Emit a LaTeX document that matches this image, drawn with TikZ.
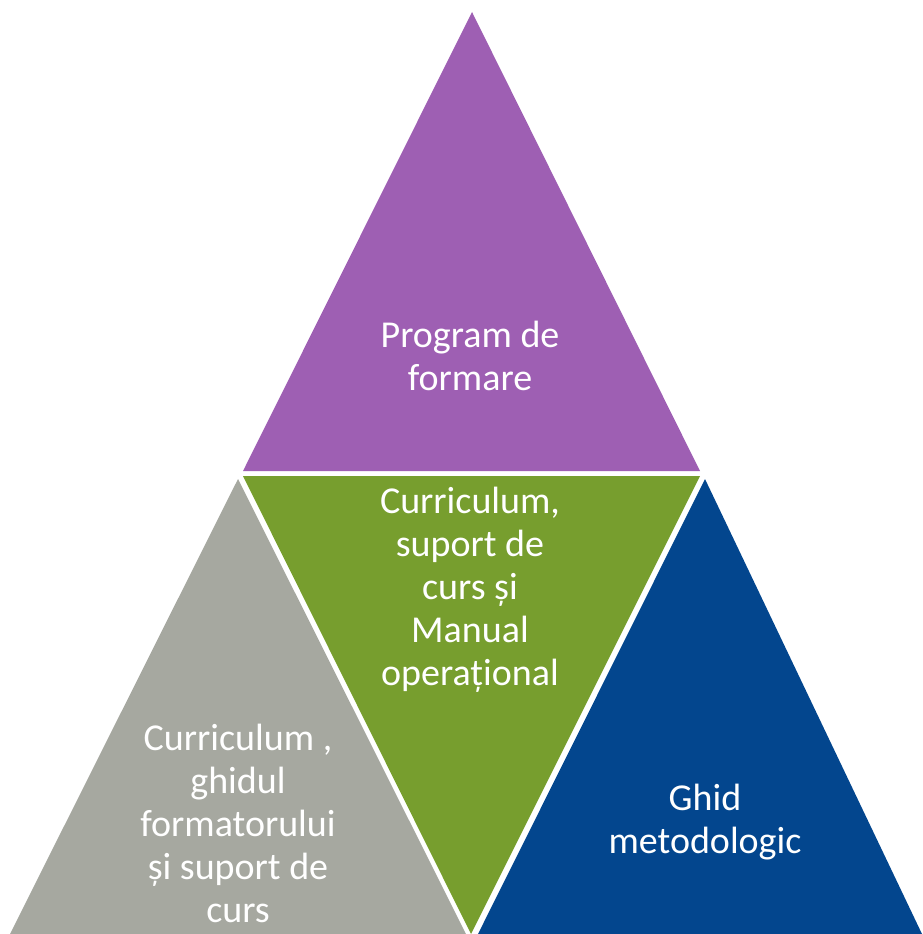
\documentclass[tikz,border=0pt]{standalone}
\usepackage{fontspec}
\setmainfont{Carlito}
\definecolor{cpurple}{HTML}{9E5FB3}
\definecolor{cgreen}{HTML}{779E2E}
\definecolor{cgrey}{HTML}{A6A8A0}
\definecolor{cblue}{HTML}{03468E}
\tikzset{
  lbl/.style={text=white, align=center, inner sep=0pt, font=\fontsize{38}{43}\selectfont},
}
\begin{document}
\begin{tikzpicture}[x=1pt,y=-1pt]
\useasboundingbox (0,0) rectangle (922,934);
\fill[cpurple] (472,12) -- (243,471) -- (700,471) -- cycle;
\fill[cgreen] (243,476) -- (700,476) -- (471,934) -- cycle;
\fill[cgrey] (238,479) -- (10,934) -- (466,934) -- cycle;
\fill[cblue] (705,479) -- (478,934) -- (922,934) -- cycle;
\node[lbl] (top) at (470,356) {Program de\\formare};
\node[lbl] (mid) at (470,590) {Curriculum,\\suport de\\curs și\\Manual\\operațional};
\node[lbl] (left) at (238,823) {Curriculum ,\\ghidul\\formatorului\\și suport de\\curs};
\node[lbl] (right) at (705,822) {Ghid\\metodologic};
\end{tikzpicture}
\end{document}
